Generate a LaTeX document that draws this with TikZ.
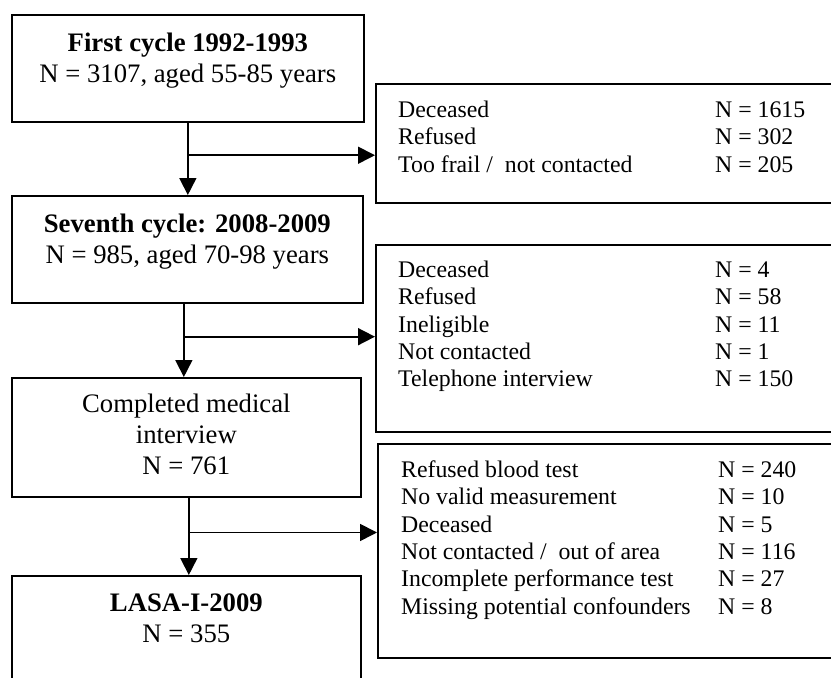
\documentclass[tikz,border=0pt]{standalone}
\usepackage{fontspec}
\setmainfont{Liberation Serif}
\usetikzlibrary{arrows.meta,positioning,calc}

\begin{document}
\begin{tikzpicture}[x=1pt,y=-1pt,
  stagebox/.style={draw, line width=1.7pt, anchor=north west, inner sep=0pt},
  stagetext/.style={align=center, inner sep=0pt, font=\fontsize{26.7}{31}\selectfont},
  lossbox/.style={draw, line width=1.7pt, anchor=north west, inner sep=0pt, minimum width=480pt},
  losstext/.style={inner sep=0pt, font=\fontsize{23.8}{27.4}\selectfont},
  flow/.style={line width=1.7pt, -{Triangle[length=17pt,width=17pt]}}]
\clip (0,0) rectangle (831,678);
% cohort boxes
\node[stagebox, minimum width=352pt, minimum height=107pt] (c1) at (11,14) {};
\node[stagebox, minimum width=351pt, minimum height=107pt] (c2) at (11,195) {};
\node[stagebox, minimum width=349pt, minimum height=119pt] (c3) at (11,377) {};
\node[stagebox, minimum width=349pt, minimum height=130pt] (c4) at (11,575) {};
\node[stagetext, below=19pt of c1.north] (t1) {\textbf{First cycle 1992-1993}\\N = 3107, aged 55-85 years};
\node[stagetext, below=19pt of c2.north] (t2) {\textbf{Seventh cycle: 2008-2009}\\N = 985, aged 70-98 years};
\node[stagetext, below=17pt of c3.north] (t3) {Completed medical\\interview\\N = 761};
\node[stagetext, below=19pt of c4.north] (t4) {\textbf{LASA-I-2009}\\N = 355};
% dropout boxes
\node[lossbox, minimum height=119pt] (x1) at (375,83) {};
\node[lossbox, minimum height=187pt] (x2) at (375,244) {};
\node[lossbox, minimum height=214pt] (x3) at (377,443) {};
\node[losstext, below right=15pt and 23pt of x1.north west] (l1) {%
\begin{tabular}{@{}p{317pt}@{}l@{}}
Deceased & N = 1615\\
Refused & N = 302\\
Too frail /~ not contacted & N = 205
\end{tabular}};
\node[losstext, below right=14pt and 23pt of x2.north west] (l2) {%
\begin{tabular}{@{}p{317pt}@{}l@{}}
Deceased & N = 4\\
Refused & N = 58\\
Ineligible & N = 11\\
Not contacted & N = 1\\
Telephone interview & N = 150
\end{tabular}};
\node[losstext, below right=15pt and 24pt of x3.north west] (l3) {%
\begin{tabular}{@{}p{317pt}@{}l@{}}
Refused blood test & N = 240\\
No valid measurement & N = 10\\
Deceased & N = 5\\
Not contacted /~ out of area & N = 116\\
Incomplete performance test & N = 27\\
Missing potential confounders & N = 8
\end{tabular}};
% arrows
\coordinate (s1) at (c1.south);
\coordinate (s2) at ([xshift=-3.5pt]c2.south);
\coordinate (s3) at ([xshift=2.5pt]c3.south);
\coordinate (j1) at ($(s1)!0.45!(s1 |- c2.north)$);
\coordinate (j2) at ($(s2)!0.45!(s2 |- c3.north)$);
\coordinate (j3) at ($(s3)!0.45!(s3 |- c4.north)$);
\draw[flow] (s1) -- (s1 |- c2.north);
\draw[flow] (s2) -- (s2 |- c3.north);
\draw[flow] (s3) -- (s3 |- c4.north);
\draw[flow] (j1) -- (j1 -| x1.west);
\draw[flow] (j2) -- (j2 -| x2.west);
\draw[flow] (j3) -- (j3 -| x3.west);
\end{tikzpicture}
\end{document}
